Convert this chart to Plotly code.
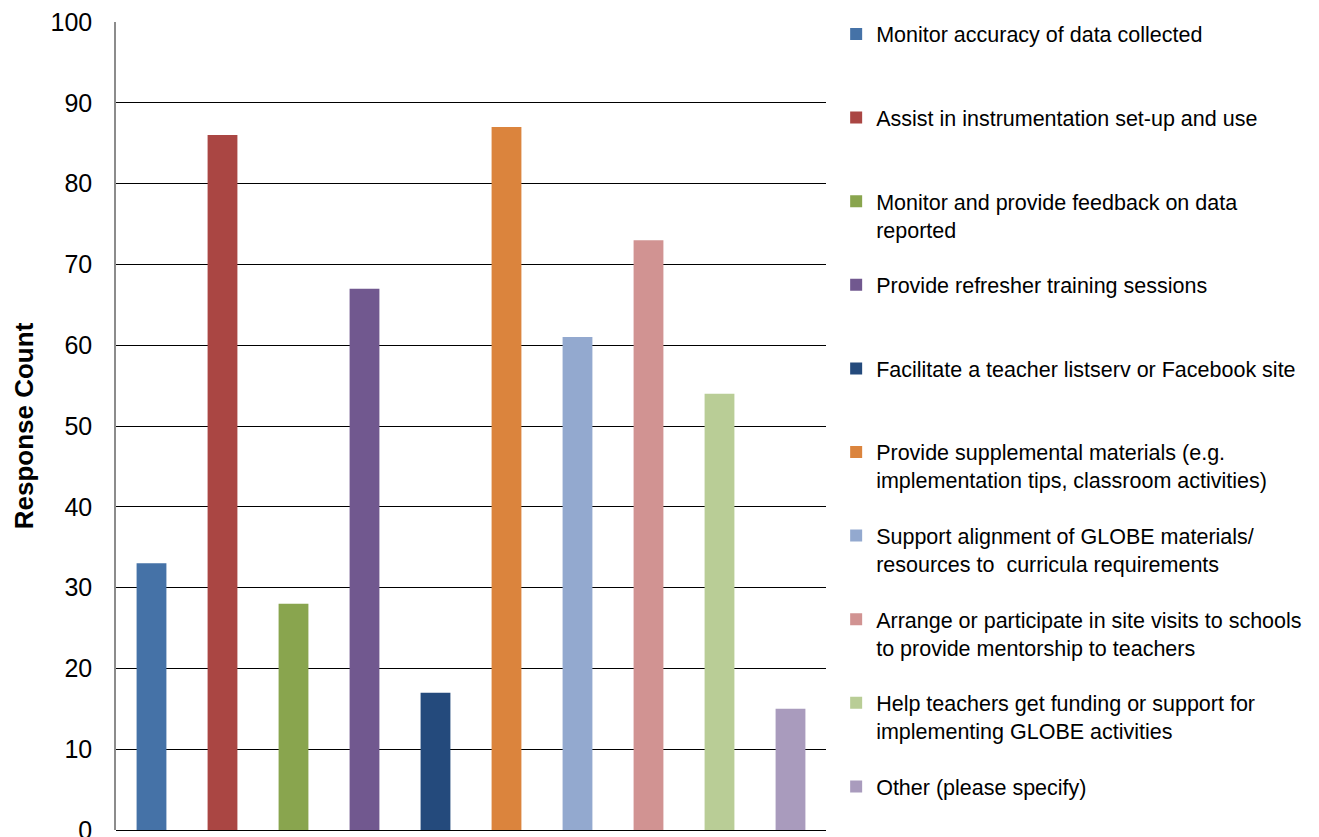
import plotly.graph_objects as go

categories = [
    "Monitor accuracy of data collected",
    "Assist in instrumentation set-up and use",
    "Monitor and provide feedback on data<br>reported",
    "Provide refresher training sessions",
    "Facilitate a teacher listserv or Facebook site",
    "Provide supplemental materials (e.g.<br>implementation tips, classroom activities)",
    "Support alignment of GLOBE materials/<br>resources to  curricula requirements",
    "Arrange or participate in site visits to schools<br>to provide mentorship to teachers",
    "Help teachers get funding or support for<br>implementing GLOBE activities",
    "Other (please specify)",
]
values = [33, 86, 28, 67, 17, 87, 61, 73, 54, 15]
colors = ["#4572A7", "#AA4643", "#89A54E", "#71588F", "#244A7C",
          "#DB843D", "#93A9CF", "#D19392", "#B9CD96", "#A99BBD"]
y_ticks = list(range(0, 101, 10))

FONT = "Liberation Sans, Arial, Helvetica, sans-serif"

fig = go.Figure()
n = len(categories)
for i, (cat, val, col) in enumerate(zip(categories, values, colors)):
    name = cat if ("<br>" in cat or i == n - 1) else cat + "<br>&nbsp;"
    fig.add_trace(go.Bar(
        x=[i], y=[val], name=name, marker=dict(color=col, line=dict(width=0)),
        width=0.42, legendgroup=f"g{i}",
    ))

# page body has an 8px margin, so the figure is drawn 8px in from the top-left
fig.update_layout(
    width=1311, height=829,
    margin=dict(l=108, r=493, t=14, b=7, autoexpand=False),
    paper_bgcolor="white", plot_bgcolor="white",
    barmode="overlay",
    font=dict(family=FONT, color="black"),
    showlegend=True,
    legend=dict(
        x=1.0143, xanchor="left", y=1.0105, yanchor="top",
        font=dict(family=FONT, size=21.5, color="black"),
        valign="top", tracegroupgap=24.7, bgcolor="rgba(0,0,0,0)",
        itemwidth=30, maxheight=1.0,
    ),
    xaxis=dict(
        range=[-0.5, 9.5], showticklabels=False, showgrid=False,
        zeroline=False, showline=False, ticks="", automargin=False,
    ),
    yaxis=dict(
        range=[0, 100], tickvals=y_ticks, showgrid=True, gridcolor="black",
        gridwidth=1, zeroline=True, zerolinecolor="black", zerolinewidth=1,
        showline=True, linecolor="#8c8c8c", linewidth=1.5, automargin=False,
        tickfont=dict(family=FONT, size=25, color="black"),
        ticks="", ticklabelstandoff=17, ticklabeloverflow="allow",
        title=dict(text="Response Count", standoff=9,
                   font=dict(family=FONT, size=26, color="black", weight="bold")),
    ),
)

fig.write_html("out.html")
